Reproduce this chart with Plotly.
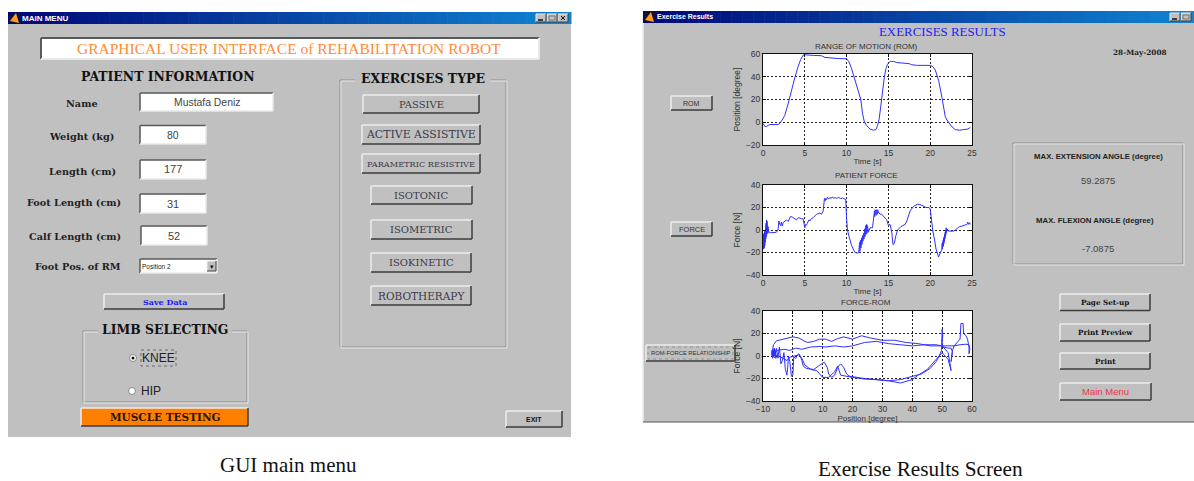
import plotly.graph_objects as go

W, H = 1194, 481

# ---------- data ----------
rom_time = [0,0.2,0.4,0.6,0.8,1.8,2.0,2.3,2.6,3.0,3.4,3.8,4.2,4.5,4.8,5.0,6,7,7.4,8,9,10,10.3,10.6,11,11.4,11.7,11.9,12.1,12.4,12.8,13.2,13.5,13.7,13.9,14.1,14.3,14.5,14.7,14.9,15.2,15.6,16,17,17.5,17.8,18.5,20,20.3,20.6,21,21.4,21.6,21.8,22,22.3,22.6,23,23.5,24,24.5,24.8]
rom_angle = [-1,-3.5,-3.8,-2.5,-2,-2,-1,2,6,16,28,39,49,55,59,59.3,58.8,58.5,57,56.5,56,55.8,53,47,37,27,20,8,1,-3,-6,-7,-6.5,-3,3,15,28,39,47,51,53.5,53.5,52.5,52,51.5,50.5,50,50,49,46,37,22,12,5,2,-1,-4,-6.5,-7,-6.5,-6,-4.5]

force_samples = [
 (0,-5),(0.03,-17),(0.06,-4),(0.09,-17),(0.12,-3),(0.15,-16),(0.18,-2),(0.21,-14),(0.24,-1),(0.27,-11),(0.3,2),(0.33,-8),(0.36,6),(0.39,-6),(0.42,9),(0.45,-4),(0.48,8),(0.51,-3),(0.54,6),(0.57,-3),(0.6,3),(0.7,-2),(0.9,-2.5),(1.2,-2),(1.6,-2),(1.8,0),
 (1.9,8),(2.0,5),(2.1,4),(2.2,7),(2.3,3.5),(2.4,6.5),(2.6,8),(2.8,9),(3,7.5),(3.2,10),(3.3,12),(3.5,11.5),(3.6,11),(3.8,9.5),(4,9),(4.15,10.5),(4.3,11),(4.6,10),(4.8,10),(4.95,4),(5,2),(5.1,5),(5.2,4.5),(5.3,6),(5.5,9),(5.6,8),(5.7,9.5),(6,11),(6.2,13),(6.4,14),(6.6,14.5),(6.8,15),(7,14),(7.2,17),
 (7.35,28),(7.45,26),(7.5,28),(7.6,27),(7.7,29),(7.85,27.5),(8,29),(8.15,28),(8.3,29.5),(8.45,28),(8.6,29),(8.8,28),(9,29),(9.3,28),(9.5,28.5),(9.9,27),(10,10),(10.1,0),(10.3,-6),(10.6,-14),(11,-20),(11.3,-20.5),(11.45,-20),
 (11.5,-13),(11.53,-20),(11.56,-11),(11.59,-19),(11.62,-10),(11.65,-17),(11.68,-9),(11.71,-16),(11.74,-8),(11.77,-14),(11.8,-7),(11.83,-13),(11.86,-6),(11.89,-11),(11.92,-5),(11.95,-10),(11.98,-4),(12.01,-9),(12.04,-3),(12.07,-8),(12.1,-1),(12.13,-7),(12.16,1),(12.19,-6),(12.22,3),(12.25,-5),(12.28,4),(12.31,-4),(12.34,5),(12.37,-4),(12.4,5),(12.43,-3),(12.46,4),(12.49,-3),(12.52,3),(12.6,-2),(12.8,2),(13.1,2),(13.3,12),
 (13.33,17),(13.37,12),(13.41,18),(13.45,12),(13.49,17),(13.53,13),(13.57,18),(13.61,13),(13.65,17),(13.69,14),(13.73,18),(13.77,15),(13.81,16),(14,14),(14.2,14),(14.5,11),(14.8,9),(15,4),(15.1,5),(15.2,5),(15.4,-2),(15.55,-13),(15.7,-12),(15.8,-8),(15.9,-5),(16.1,0),(16.5,3),(17,5),(17.2,8),(17.6,17),(18,21),(18.5,23),(19,22),(19.5,20),(19.8,20),(20,19),(20.1,10),(20.3,0),(20.5,-8),(20.7,-17),(21,-24),(21.2,-21),(21.4,-17),
 (21.43,-12),(21.46,-17),(21.49,-11),(21.52,-15),(21.55,-9),(21.58,-14),(21.61,-7),(21.64,-12),(21.67,-6),(21.7,-10),(21.73,-4),(21.76,-8),(21.79,-2),(21.82,-6),(21.85,0),(21.88,-4),(21.91,2),(21.95,-2),(22,1),(22.2,-1),(22.5,-1),(22.8,-1),(23,0),(23.3,2),(23.5,3),(23.8,3.5),(24,4),(24.2,4.5),(24.4,5),(24.5,7),(24.6,5),(24.7,6.5),(24.8,5)]
force_time = [p[0] for p in force_samples]
force_value = [p[1] for p in force_samples]

loop_position = [-7,-6.8,-6.6,-6.4,-6.2,-6,-5.8,-5.6,-7,-7,-6.8,-6.3,-6,-5.5,-5,-4.5,-4,-3.5,-3,-2.5,-2,-1.7,-1.5,-1,-0.5,0,0.3,1,1.5,2,2.5,3,3.5,4.5,6,7,8.5,10,10.5,11.5,12,13,14,15,16,17,18,19,21,24,28,32,36,40,43,46,48,49,49.8,50,50.2,50,50.3,52,53,53.4,53,53.5,54,56,56.3,57,57.2,58,58.5,59,59,59.3,59,58,56,54,50,46,42,38,34,30,26,23,20,17,15,13,11,9,7,5,4,2,0,-3,-5.5,-6.5,-6.8,-7,-5,-3,-1,0,1,3,6,9,11,14,17,20,24,28,32,36,40,44,48,50,52,52.8,53,52,50,48,45,42,40,36,32,28,24,20,16,15,14,12,10,8,6,4,3,2,0,-1,-2,-4,-6,-7]
loop_force = [3,-2,6,-1,7,0,5,-2,0,5,0,5,0,7,-2,8,-7,-4,3,-12,-17,-10,0,-5,-18,-17,-1,-2,1,2,0,-4,-9,-11,-12,-12,-9,-6,-5.5,-10,-16,-19,-17,-10,-7,-10,-16,-18,-19,-20,-21,-22,-21,-18,-16,-11,-5,0,5,24,18,12,8,7,7,4,-5,5,9,15,29,29,20,18,15,8,2,6,10,10.5,10,9,9,9,11,12,14,14,16,18,15,17,15.5,13,15,15,13,12,13,16,17,15,13.5,10,6,2,5,6,5,6,7,6,8,8.5,8,9,8,9,12,13,11,10,9,10,10,9,3,-9,-13,-3,3,-3,-12,-17,-21,-24,-22,-21,-20.5,-19,-17,-9,-14,-19,-19,-13,-12,-8,-2,1,0,-1,-4,-1,1,1]

gui_title = "GRAPHICAL USER INTERFACE of REHABILITATION ROBOT"
field_labels = ["Name", "Weight (kg)", "Length (cm)", "Foot Length (cm)", "Calf Length (cm)", "Foot Pos. of RM"]
field_values = ["Mustafa Deniz", "80", "177", "31", "52"]
exercise_types = ["PASSIVE", "ACTIVE ASSISTIVE", "PARAMETRIC RESISTIVE", "ISOTONIC", "ISOMETRIC", "ISOKINETIC", "ROBOTHERAPY"]
report_buttons = ["Page Set-up", "Print Preview", "Print", "Main Menu"]
plot_buttons = ["ROM", "FORCE", "ROM-FORCE RELATIONSHIP"]

# ---------- helpers (pixel positions -> paper fractions) ----------
def X(p): return p / W
def Y(p): return 1 - p / H

shapes, notes = [], []
FACE, LIGHT, DARK = "#c0c0c0", "#ececec", "#3c3c3c"
SERIF, SANS = "DejaVu Serif", "Liberation Sans"

def rect(x0, y0, x1, y1, fill=FACE, line=None, width=1, dash=None):
    shapes.append(dict(type="rect", xref="paper", yref="paper", x0=X(x0), x1=X(x1), y0=Y(y0), y1=Y(y1),
                       fillcolor=fill, line=dict(color=line or "rgba(0,0,0,0)", width=width if line else 0, dash=dash), layer="below"))

def seg(x0, y0, x1, y1, color, width=1.5):
    shapes.append(dict(type="line", xref="paper", yref="paper", x0=X(x0), x1=X(x1), y0=Y(y0), y1=Y(y1),
                       line=dict(color=color, width=width), layer="below"))

def bevel(x0, y0, x1, y1, fill=FACE, sunken=False, width=1.5):
    rect(x0, y0, x1, y1, fill)
    tl, br = (("#5a5a5a", "#e8e8e8") if sunken else (LIGHT, DARK))
    seg(x0, y0, x1, y0, tl, width); seg(x0, y0, x0, y1, tl, width)
    seg(x0, y1, x1, y1, br, width); seg(x1, y0, x1, y1, br, width)

def text(x, y, s, size, color="#111111", family=SERIF, bold=False, anchor="center"):
    if bold: s = "<b>" + s + "</b>"
    notes.append(dict(xref="paper", yref="paper", x=X(x), y=Y(y), text=s, showarrow=False, xanchor=anchor, yanchor="middle",
                      font=dict(size=size, color=color, family=family), align="center", borderpad=0, borderwidth=0))

def frame(x0, y0, x1, y1, color="#e6e6e6"):
    rect(x0, y0, x1, y1, FACE, "#8f8f8f", 1)
    rect(x0 + 1, y0 + 1, x1 + 1, y1 + 1, "rgba(0,0,0,0)", color, 1)

def titlebar(x0, y0, x1, y1, name, name_x, size, nbuttons):
    steps = 50
    for i in range(steps):
        f = i / (steps - 1)
        c = "rgb(%d,%d,%d)" % (0 + 16 * f, 8 + 124 * f, 120 + 90 * f)
        rect(x0 + (x1 - x0) * i / steps, y0, x0 + (x1 - x0) * (i + 1) / steps + 0.5, y1, c)
    rect(x0 + 1, y0 + 1, x0 + 12, y1 - 1, "#101030")
    shapes.append(dict(type="path", xref="paper", yref="paper", layer="below", fillcolor="#ff9a2a", line=dict(width=0),
                       path="M %f %f L %f %f L %f %f Z" % (X(x0 + 2), Y(y1 - 3), X(x0 + 8), Y(y0 + 1), X(x0 + 11), Y(y1 - 1))))
    text(name_x, (y0 + y1) / 2, name, size, "#ffffff", SANS, True, "left")
    bx = x1 - 3
    for i in range(nbuttons):
        bevel(bx - 10, y0 + 2, bx, y1 - 2, width=1)
        if i == 0 and nbuttons > 2:
            seg(bx - 7, y0 + 4, bx - 3, y1 - 4, "#111", 1); seg(bx - 3, y0 + 4, bx - 7, y1 - 4, "#111", 1)
        elif (nbuttons > 2 and i == 1) or (nbuttons == 2 and i == 0):
            rect(bx - 8, y0 + 4, bx - 2, y1 - 4, "rgba(0,0,0,0)", "#777", 1)
        else:
            seg(bx - 8, y1 - 4, bx - 3, y1 - 4, "#111", 1.5)
        bx -= 11

# ---------- left window ----------
rect(8, 12, 571, 437)
titlebar(8, 12, 571, 24, "MAIN MENU", 22, 8, 3)
bevel(41, 38, 539, 59, "#ffffff", True, 2)
text(289, 49, gui_title, 15.5, "#ff8c32", "Liberation Serif")
text(167, 76, "PATIENT INFORMATION", 12.4, "#111", SERIF, True)

label_pos = [(82, 103), (81, 136), (82, 171), (74, 202), (74.5, 236), (78, 266)]
for (lx, ly), s in zip(label_pos, field_labels):
    text(lx, ly, s, 9.7, "#222", SERIF, True)
field_boxes = [(140, 93, 273, 111), (140, 125.5, 206, 144), (140, 160, 206, 179), (140, 194, 206, 213), (141, 226, 207, 245)]
field_sizes = [10.4, 10.5, 11, 11, 11]
for (a, b, c, d), s, z in zip(field_boxes, field_values, field_sizes):
    bevel(a, b, c, d, "#ffffff", True)
    text((a + c) / 2, (b + d) / 2, s, z, "#444", SANS)
bevel(140, 259, 217, 273, "#ffffff", True)
text(142, 266, "Position 2", 6.5, "#222", SANS, False, "left")
bevel(207, 261, 216, 271, width=1)
text(211.5, 266, "▾", 7, "#111", SANS)

bevel(104, 294, 224, 309)
text(164.5, 302, "Save Data", 8, "#1a1aff", SERIF, True)

frame(83, 331, 247, 402)
rect(98, 324, 232, 336)
text(165, 329, "LIMB SELECTING", 12.4, "#111", SERIF, True)
shapes.append(dict(type="circle", xref="paper", yref="paper", x0=X(129.5), x1=X(136.5), y0=Y(354.5), y1=Y(361.5), fillcolor="#ffffff",
                   line=dict(color="#888", width=1), layer="below"))
shapes.append(dict(type="circle", xref="paper", yref="paper", x0=X(131.5), x1=X(134.5), y0=Y(356.5), y1=Y(359.5), fillcolor="#111",
                   line=dict(width=0), layer="below"))
shapes.append(dict(type="circle", xref="paper", yref="paper", x0=X(128.5), x1=X(135.5), y0=Y(387.5), y1=Y(394.5), fillcolor="#ffffff",
                   line=dict(color="#888", width=1), layer="below"))
rect(141, 350, 176, 366, FACE, "#555", 0.8, "dot")
text(158.5, 358, "KNEE", 12, "#222", SANS)
text(150.5, 391, "HIP", 12, "#222", SANS)
bevel(81, 408, 248, 426, "#ff8000")
text(164.5, 417, "MUSCLE TESTING", 10.5, "#2a1500", SERIF, True)

frame(340, 80, 506, 347)
rect(355, 72, 491, 84)
text(423, 78, "EXERCISES TYPE", 12.5, "#111", SERIF, True)
ex_boxes = [(363, 95, 479, 113), (362, 125, 480, 144), (362, 154, 480, 173), (371, 186, 472, 204), (371, 220, 472, 239), (371, 253, 471, 272), (371, 286, 471, 305)]
ex_sizes = [10, 10.9, 8.2, 10, 10, 10, 10.5]
for (a, b, c, d), s, z in zip(ex_boxes, exercise_types, ex_sizes):
    bevel(a, b, c, d)
    text((a + c) / 2, (b + d) / 2, s, z, "#3a3a4a", SERIF)
bevel(506, 411, 562, 427)
text(534, 419, "EXIT", 7, "#111", SANS, True)

text(288.5, 465, "GUI main menu", 21, "#111", "Liberation Serif")
text(920, 468.5, "Exercise Results Screen", 21.3, "#111", "Liberation Serif")

# ---------- right window ----------
rect(643, 11, 1194, 422)
seg(643, 11, 643, 422, "#ececec", 1.5)
seg(643, 422, 1194, 422, "#555555", 1)
titlebar(643, 11, 1194, 23, "Exercise Results", 657, 7, 2)
text(942.5, 32, "EXERCISES RESULTS", 12.9, "#2020ff", "Liberation Serif")
text(1140, 52, "28-May-2008", 7.3, "#222", SERIF, True)

frame(1013, 143, 1183, 264)
text(1098, 157, "MAX. EXTENSION ANGLE (degree)", 7.8, "#222", SANS, True)
text(1098, 180, "59.2875", 9.5, "#444", SANS)
text(1095, 220, "MAX. FLEXION ANGLE (degree)", 7.8, "#222", SANS, True)
text(1098, 248, "-7.0875", 9.5, "#444", SANS)

rep_boxes = [(1060, 294, 1150, 310.5), (1060, 324, 1150, 341), (1060, 353, 1150, 369), (1060, 383, 1151, 400)]
for (a, b, c, d), s in zip(rep_boxes, report_buttons):
    bevel(a, b, c, d)
    if s == "Main Menu":
        text((a + c) / 2, (b + d) / 2, s, 9.5, "#ee3344", SANS)
    else:
        text((a + c) / 2, (b + d) / 2, s, 7.2, "#111", SERIF, True)

plot_boxes = [(671, 96, 712, 110), (671, 222, 712, 236), (646, 345, 735, 361)]
for (a, b, c, d), s, z in zip(plot_boxes, plot_buttons, [7, 7.5, 5.8]):
    bevel(a, b, c, d)
    text((a + c) / 2, (b + d) / 2, s, z, "#333", SANS)
rect(648, 347, 733, 359, "rgba(0,0,0,0)", "#777", 0.6, "dot")

# ---------- plots ----------
panels = [(54, 145), (185, 275), (311, 401)]
PL, PR = 763, 972
for (top, bottom) in panels:
    rect(PL, top, PR, bottom, "#ffffff")
text(866, 46, "RANGE OF MOTION (ROM)", 8, "#333", SANS)
text(866, 175, "PATIENT FORCE", 8, "#333", SANS)
text(866, 302, "FORCE-ROM", 8, "#333", SANS)

fig = go.Figure()
LINE = dict(color="#3030ff", width=1)
fig.add_trace(go.Scatter(x=rom_time, y=rom_angle, mode="lines", line=LINE, xaxis="x", yaxis="y"))
fig.add_trace(go.Scatter(x=force_time, y=force_value, mode="lines", line=LINE, xaxis="x2", yaxis="y2"))
fig.add_trace(go.Scatter(x=loop_position, y=loop_force, mode="lines", line=LINE, xaxis="x3", yaxis="y3"))

AX_FONT = dict(size=8.5, family=SANS, color="#333")
def base(rng, dtick, anchor):
    return dict(range=rng, dtick=dtick, anchor=anchor, showline=True, linecolor="#111", linewidth=1, mirror="ticks",
                ticks="inside", ticklen=3, tickcolor="#111", showgrid=True, gridcolor="#222", griddash="2px,2px", gridwidth=1, zeroline=False,
                automargin=False, tickfont=AX_FONT)

def xax(rng, dtick, title, anchor):
    return dict(base(rng, dtick, anchor), domain=[X(PL), X(PR)],
                title=dict(text=title, font=dict(size=8, family=SANS, color="#333"), standoff=1))

def yax(rng, dtick, title, anchor, top, bottom):
    return dict(base(rng, dtick, anchor), domain=[Y(bottom), Y(top)],
                title=dict(text=title, font=dict(size=8.5, family=SANS, color="#333"), standoff=3))

fig.update_layout(
    width=W, height=H, margin=dict(l=0, r=0, t=0, b=0, pad=0), autosize=False, showlegend=False,
    paper_bgcolor="#ffffff", plot_bgcolor="rgba(0,0,0,0)", hovermode=False,
    xaxis=xax([0, 25], 5, "Time [s]", "y"), yaxis=yax([-20, 60], 20, "Position [degree]", "x", *panels[0]),
    xaxis2=xax([0, 25], 5, "Time [s]", "y2"), yaxis2=yax([-40, 40], 20, "Force [N]", "x2", *panels[1]),
    xaxis3=xax([-10, 60], 10, "Position [degree]", "y3"), yaxis3=yax([-40, 40], 20, "Force [N]", "x3", *panels[2]),
    shapes=shapes, annotations=notes,
)
fig.write_html("out.html", config=dict(displayModeBar=False),
               post_script="document.body.style.margin='0';document.body.style.overflow='hidden';")
